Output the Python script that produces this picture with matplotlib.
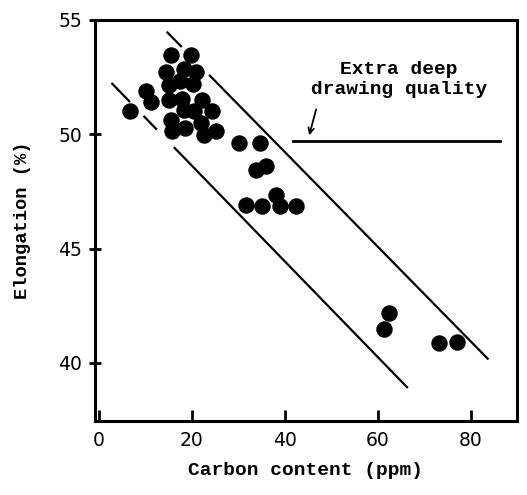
import matplotlib
matplotlib.use('Agg')
import matplotlib.pyplot as plt
import numpy as np

# measured points: carbon (ppm) vs elongation (%)
carbon = [6.7, 10.2, 11.1,
          15.4, 19.8, 14.5, 18.4, 20.8, 15.0, 17.5, 20.3, 15.0, 17.9, 22.2,
          24.4, 18.3, 20.4, 15.4, 15.7, 18.6, 21.9, 22.6, 25.2,
          30.2, 34.6, 33.8, 36.0, 31.7, 35.1, 38.2, 38.9, 42.5,
          62.5, 61.4, 73.1, 77.0]
elong = [51.0, 51.9, 51.4,
         53.44, 53.47, 52.72, 52.85, 52.72, 52.16, 52.31, 52.21, 51.51, 51.54, 51.51,
         51.0, 51.07, 51.0, 50.63, 50.12, 50.27, 50.49, 49.98, 50.12,
         49.6, 49.6, 48.45, 48.6, 46.9, 46.85, 47.35, 46.85, 46.85,
         42.2, 41.5, 40.85, 40.9]

# scatter band: y = y0 + slope * (x - x0), drawn as pieces (gaps near the dots)
upper_band = (14.57, 54.48, -0.2068)
upper_pieces = [(14.57, 17.8), (23.7, 83.85)]
lower_band = (2.68, 52.24, -0.209)
lower_pieces = [(2.68, 6.67), (9.57, 12.46), (16.1, 66.5)]

edd_level = 49.72
edd_range = (41.7, 86.3)

xticks = [0, 20, 40, 60, 80]
yticks = [40, 45, 50, 55]

mono = 'Liberation Mono'

fig = plt.figure(figsize=(5.27, 4.95), dpi=100)
ax = fig.add_axes([0.180, 0.149, 0.801, 0.811])

for (x0, y0, k), pieces in [(upper_band, upper_pieces), (lower_band, lower_pieces)]:
    for a, b in pieces:
        xs = np.array([a, b])
        ax.plot(xs, y0 + k * (xs - x0), color='black', lw=1.6, solid_capstyle='butt')

ax.plot(edd_range, [edd_level, edd_level], color='black', lw=2.0)
ax.annotate('', xy=(45.1, 49.83), xytext=(46.9, 51.2),
            arrowprops=dict(arrowstyle='->', color='black', lw=1.3))
ax.text(64.6, 52.4, 'Extra deep\ndrawing quality', ha='center', va='center',
        fontsize=14, family=mono, fontweight='bold', linespacing=1.25)

ax.scatter(carbon, elong, s=140, color='black', zorder=3, linewidths=0)

ax.set_xlim(-0.9, 90)
ax.set_ylim(37.45, 55)
ax.set_xticks(xticks)
ax.set_yticks(yticks)
ax.tick_params(axis='x', direction='in', length=8, width=2, pad=7, labelsize=13.5)
ax.tick_params(axis='y', direction='inout', length=8, width=2, pad=5, labelsize=13.5)
for sp in ax.spines.values():
    sp.set_linewidth(2.2)

ax.set_xlabel('Carbon content (ppm)', family=mono, fontweight='bold',
              fontsize=14, labelpad=9)
ax.set_ylabel('Elongation (%)', family=mono, fontweight='bold',
              fontsize=13.5, labelpad=20)

fig.savefig('out.png', dpi=100)
